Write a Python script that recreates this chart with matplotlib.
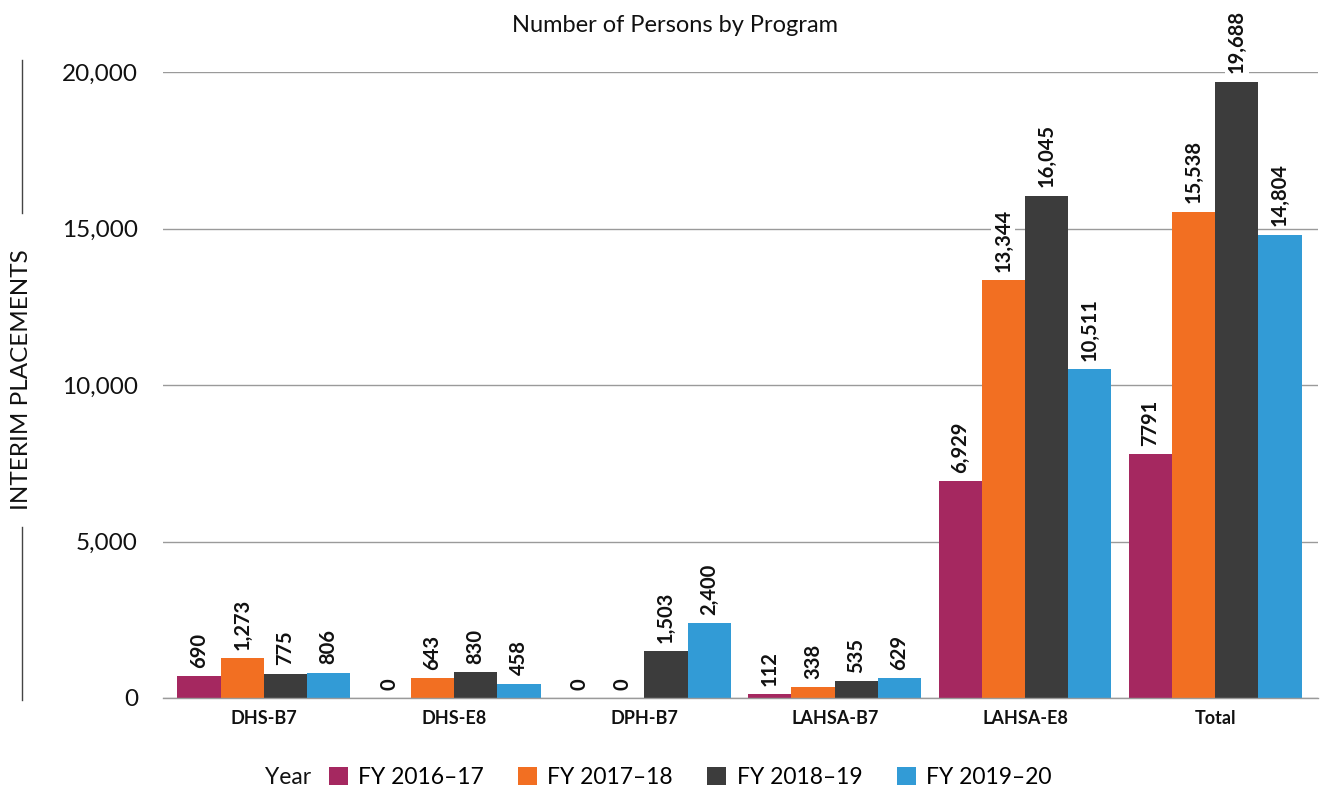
import matplotlib
matplotlib.use("Agg")
import matplotlib.pyplot as plt
from matplotlib.patches import Patch
from matplotlib.lines import Line2D
import numpy as np

categories = ["DHS-B7", "DHS-E8", "DPH-B7", "LAHSA-B7", "LAHSA-E8", "Total"]
series_names = ["FY 2016\u201317", "FY 2017\u201318", "FY 2018\u201319", "FY 2019\u201320"]
fy2016_17 = [690, 0, 0, 112, 6929, 7791]
fy2017_18 = [1273, 643, 0, 338, 13344, 15538]
fy2018_19 = [775, 830, 1503, 535, 16045, 19688]
fy2019_20 = [806, 458, 2400, 629, 10511, 14804]
series = [fy2016_17, fy2017_18, fy2018_19, fy2019_20]
# bar labels as printed in the source (the Total FY 2016-17 value has no comma)
labels = [
    ["690", "0", "0", "112", "6,929", "7791"],
    ["1,273", "643", "0", "338", "13,344", "15,538"],
    ["775", "830", "1,503", "535", "16,045", "19,688"],
    ["806", "458", "2,400", "629", "10,511", "14,804"],
]
colors = ["#A52860", "#F26F22", "#3C3C3C", "#329BD6"]
yticks = [0, 5000, 10000, 15000, 20000]

plt.rcParams['font.family'] = ['Lato', 'DejaVu Sans']

fig = plt.figure(figsize=(13.21, 7.88), dpi=100)
W, H = 1321, 788
ax = fig.add_axes([163 / W, 1 - 698 / H, (1318 - 163) / W, (698 - 72) / H])

x = np.arange(len(categories))
bw = 0.227
for i, (vals, c) in enumerate(zip(series, colors)):
    pos = x + (i - 1.5) * bw
    ax.bar(pos, vals, width=bw, color=c, zorder=2)
    for p, v, lab in zip(pos, vals, labels[i]):
        ax.annotate(lab, xy=(p, v), xytext=(0, 6), textcoords="offset points",
                    rotation=90, ha="center", va="bottom", fontsize=14.5, fontweight="bold",
                    color="#111111", zorder=4, annotation_clip=False,
                    bbox=dict(facecolor="white", edgecolor="none", pad=1.5))

ax.set_xlim(-0.53, 5.54)
ax.set_ylim(0, 20000)
ax.set_yticks(yticks)
ax.set_yticklabels([f"{t:,}" for t in yticks], fontsize=17.5, color="#111111")
ax.yaxis.grid(True, color="#9a9a9a", linewidth=1.0, zorder=0)
ax.set_axisbelow(True)
ax.tick_params(axis="y", length=0, pad=18)
ax.tick_params(axis="x", length=0, pad=9)
ax.set_xticks(x)
ax.set_xticklabels(categories, fontsize=13, fontweight="bold", color="#111111")
for s in ["top", "right", "left"]:
    ax.spines[s].set_visible(False)
ax.spines["bottom"].set_color("#9a9a9a")
ax.spines["bottom"].set_linewidth(1.0)

fig.text(675 / W, 1 - 25 / H, "Number of Persons by Program", ha="center", va="center",
         fontsize=17, color="#111111")

fig.text(22 / W, 1 - 380 / H, "INTERIM PLACEMENTS", rotation=90, ha="center", va="center",
         fontsize=17.5, color="#111111")
fig.add_artist(Line2D([22 / W, 22 / W], [1 - 60 / H, 1 - 213 / H], color="#444444", linewidth=1.0))
fig.add_artist(Line2D([22 / W, 22 / W], [1 - 527 / H, 1 - 700 / H], color="#444444", linewidth=1.0))

handles = [Patch(facecolor=c, edgecolor="none") for c in colors]
fig.legend(handles, series_names, loc="center", bbox_to_anchor=(690 / W, 1 - 777 / H),
           ncol=4, frameon=False, fontsize=16.5, handlelength=0.83, handleheight=0.83,
           handletextpad=0.45, columnspacing=1.5, borderpad=0, borderaxespad=0)
fig.text(265 / W, 1 - 777 / H, "Year", ha="left", va="center", fontsize=16.5, color="#111111")

fig.savefig("out.png", dpi=100)
